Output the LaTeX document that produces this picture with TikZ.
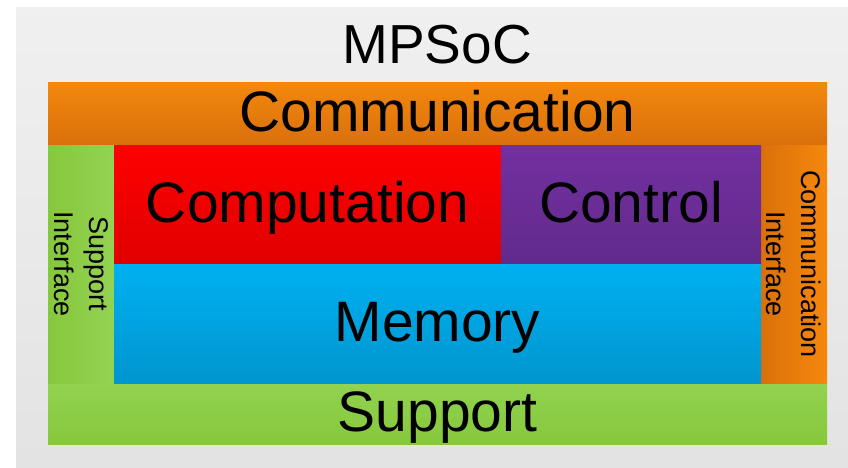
\documentclass[tikz,border=0pt]{standalone}
\usepackage{fontspec}
\setmainfont{Liberation Sans}
\begin{document}
\begin{tikzpicture}[x=1pt, y=-1pt,
  block/.style={rectangle, inner sep=0pt, outer sep=0pt, anchor=north west,
                text height=41pt, text depth=6pt,
                font=\fontsize{57}{60}\selectfont},
  sidebar/.style={rectangle, inner sep=0pt, outer sep=0pt, anchor=north west},
  sidetext/.style={rotate=-90, align=center, inner sep=0pt,
                   font=\fontsize{27}{35}\selectfont}]
  \useasboundingbox (0,0) rectangle (848,468);
  \fill[white] (0,0) rectangle (848,468);

  % outer MPSoC frame
  \shade[top color=black!6, bottom color=black!11] (16,8) rectangle (848,468);
  \node[font=\fontsize{55}{60}\selectfont, inner sep=0pt] (title) at (437,45) {MPSoC};

  % top and bottom layers
  \node[block, minimum width=779pt, minimum height=62pt,
        top color={rgb,255:red,242;green,136;blue,12},
        bottom color={rgb,255:red,218;green,112;blue,12}] (comm) at (48,83) {Communication};
  \node[block, minimum width=779pt, minimum height=61pt,
        top color={rgb,255:red,146;green,210;blue,80},
        bottom color={rgb,255:red,134;green,200;blue,60}] (supp) at (48,383) {Support};

  % side interfaces
  \node[sidebar, minimum width=66pt, minimum height=238pt,
        left color={rgb,255:red,134;green,200;blue,60},
        right color={rgb,255:red,148;green,210;blue,82}] (suppif) at (48,145) {};
  \node[sidetext] (suppiftext) at (suppif.center) {Support\\Interface};

  \node[sidebar, minimum width=66pt, minimum height=238pt,
        left color={rgb,255:red,218;green,112;blue,10},
        right color={rgb,255:red,245;green,136;blue,12}] (commif) at (761,145) {};
  \node[sidetext] (commiftext) at (commif.center) {Communication\\Interface};

  % core blocks
  \node[block, minimum width=387pt, minimum height=119pt,
        top color={rgb,255:red,255;green,0;blue,0},
        bottom color={rgb,255:red,224;green,0;blue,0}] (comp) at (114,145) {Computation};
  \node[block, minimum width=260pt, minimum height=119pt,
        top color={rgb,255:red,114;green,48;blue,160},
        bottom color={rgb,255:red,98;green,42;blue,140}] (ctrl) at (501,145) {Control};
  \node[block, minimum width=647pt, minimum height=119pt,
        top color={rgb,255:red,0;green,176;blue,240},
        bottom color={rgb,255:red,0;green,150;blue,208}] (mem) at (114,264) {Memory};
\end{tikzpicture}
\end{document}
